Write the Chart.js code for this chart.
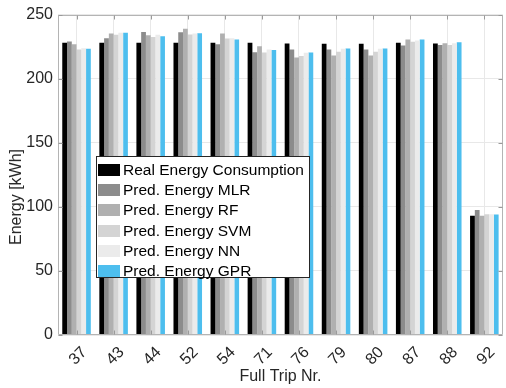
<!DOCTYPE html>
<html>
<head>
<meta charset="utf-8">
<script src="https://cdn.jsdelivr.net/npm/chart.js@4"></script>
<style>
  html, body { margin: 0; padding: 0; background: #fff; }
  #wrap { position: relative; width: 506px; height: 388px; overflow: hidden; }
  #c { position: absolute; left: 0; top: 0; }
  #ytitle {
    position: absolute; left: 16px; top: 197px;
    transform: translate(-50%, -50%) rotate(-90deg);
    font: 16px "Liberation Sans", Arial, sans-serif; color: #262626; white-space: nowrap;
  }
  #legend {
    position: absolute; left: 96px; top: 156px; width: 214px; height: 122px;
    border: 1px solid #262626; background: #fff; box-sizing: border-box;
    font: 15.5px "Liberation Sans", Arial, sans-serif; color: #000;
  }
  .row { position: absolute; left: 0; height: 20px; display: flex; align-items: center; white-space: nowrap; }
  .sw { display: inline-block; width: 22px; height: 12px; margin-left: 1px; margin-right: 3px; }
</style>
</head>
<body>
<div id="wrap">
  <canvas id="c" width="506" height="388"></canvas>
  <div id="ytitle">Energy [kWh]</div>
  <div id="legend"></div>
</div>
<script>
// ---- data ----
const categories = ['37','43','44','52','54','71','76','79','80','87','88','92'];
const realEnergy = [228.0, 228.0, 228.0, 228.0, 228.0, 228.0, 227.5, 227.2, 227.2, 228.0, 227.5, 93.0];
const predMLR    = [229.0, 231.6, 236.5, 236.3, 226.9, 220.7, 222.8, 222.8, 222.8, 225.9, 226.2, 97.6];
const predRF     = [226.9, 235.2, 233.9, 238.9, 235.2, 225.4, 216.6, 218.1, 218.1, 230.6, 227.7, 93.0];
const predSVM    = [222.8, 234.2, 232.6, 234.5, 231.4, 220.5, 217.6, 221.0, 221.0, 228.8, 226.2, 94.3];
const predNN     = [223.8, 235.8, 234.2, 235.2, 231.6, 222.8, 220.2, 223.3, 223.3, 229.8, 227.7, 94.3];
const predGPR    = [223.3, 235.8, 233.2, 235.5, 230.6, 222.3, 220.5, 223.6, 223.6, 230.6, 228.5, 94.0];
const seriesLabels = ['Real Energy Consumption','Pred. Energy MLR','Pred. Energy RF','Pred. Energy SVM','Pred. Energy NN','Pred. Energy GPR'];
const yTicks = [0, 50, 100, 150, 200, 250];
const xTitle = 'Full Trip Nr.';
const yTitle = 'Energy [kWh]';

const colors = ['#000000','#8c8c8c','#b0b0b0','#d4d4d4','#ebebeb','#4dbeee'];
const seriesData = [realEnergy, predMLR, predRF, predSVM, predNN, predGPR];

Chart.defaults.font.family = '"Liberation Sans", Arial, sans-serif';
Chart.defaults.font.size = 16;
Chart.defaults.color = '#262626';

const boxPlugin = {
  id: 'boxPlugin',
  afterDatasetsDraw(chart) {
    const { ctx, chartArea: { left, right, top, bottom }, scales: { x, y } } = chart;
    ctx.save();
    ctx.strokeStyle = '#b4b4b4';
    ctx.lineWidth = 1;
    ctx.beginPath();
    const L = Math.round(left) + 0.5, R = Math.round(right) - 0.5, T = Math.round(top) + 0.5, B = Math.round(bottom) - 0.5;
    ctx.rect(L, T, R - L, B - T);
    ctx.stroke();
    ctx.strokeStyle = '#9a9a9a';
    ctx.beginPath();
    y.ticks.forEach((t, i) => {
      const p = Math.round(y.getPixelForTick(i)) + 0.5;
      ctx.moveTo(L, p); ctx.lineTo(L + 4, p);
      ctx.moveTo(R, p); ctx.lineTo(R - 4, p);
    });
    x.ticks.forEach((t, i) => {
      const p = Math.round(x.getPixelForTick(i)) + 0.5;
      ctx.moveTo(p, T); ctx.lineTo(p, T + 4);
      ctx.moveTo(p, B); ctx.lineTo(p, B - 4);
    });
    ctx.stroke();
    ctx.restore();
  }
};

const chart = new Chart(document.getElementById('c'), {
  type: 'bar',
  data: {
    labels: categories,
    datasets: seriesData.map((d, i) => ({
      label: seriesLabels[i],
      data: d,
      backgroundColor: colors[i],
      borderWidth: 0,
      categoryPercentage: 0.77,
      barPercentage: 1.0
    }))
  },
  options: {
    responsive: false,
    animation: false,
    devicePixelRatio: 1,
    layout: { padding: { left: 0, top: 13, right: 2, bottom: 0 } },
    plugins: { legend: { display: false }, tooltip: { enabled: false } },
    scales: {
      x: {
        grid: { color: '#e8e8e8', offset: false, drawTicks: false },
        border: { display: false },
        ticks: { autoSkip: false, minRotation: 45, maxRotation: 45, padding: 8, labelOffset: 8, color: '#262626' },
        title: { display: true, text: xTitle, color: '#262626', padding: { top: 0, bottom: 2 } },
        afterFit(s) { s.height = 53; }
      },
      y: {
        min: 0, max: 250,
        afterBuildTicks(s) { s.ticks = yTicks.map(v => ({ value: v })); },
        grid: { color: '#e8e8e8', drawTicks: false },
        border: { display: false },
        ticks: { padding: 5, color: '#262626' },
        afterFit(s) { s.width = 58; }
      }
    }
  },
  plugins: [boxPlugin]
});

// HTML legend built from the chart datasets
const leg = document.getElementById('legend');
chart.data.datasets.forEach((ds, i) => {
  const row = document.createElement('div');
  row.className = 'row';
  row.style.top = (3 + 20.2 * i) + 'px';
  const sw = document.createElement('span');
  sw.className = 'sw';
  sw.style.background = ds.backgroundColor;
  const tx = document.createElement('span');
  tx.textContent = ds.label;
  row.appendChild(sw); row.appendChild(tx);
  leg.appendChild(row);
});
</script>
</body>
</html>
